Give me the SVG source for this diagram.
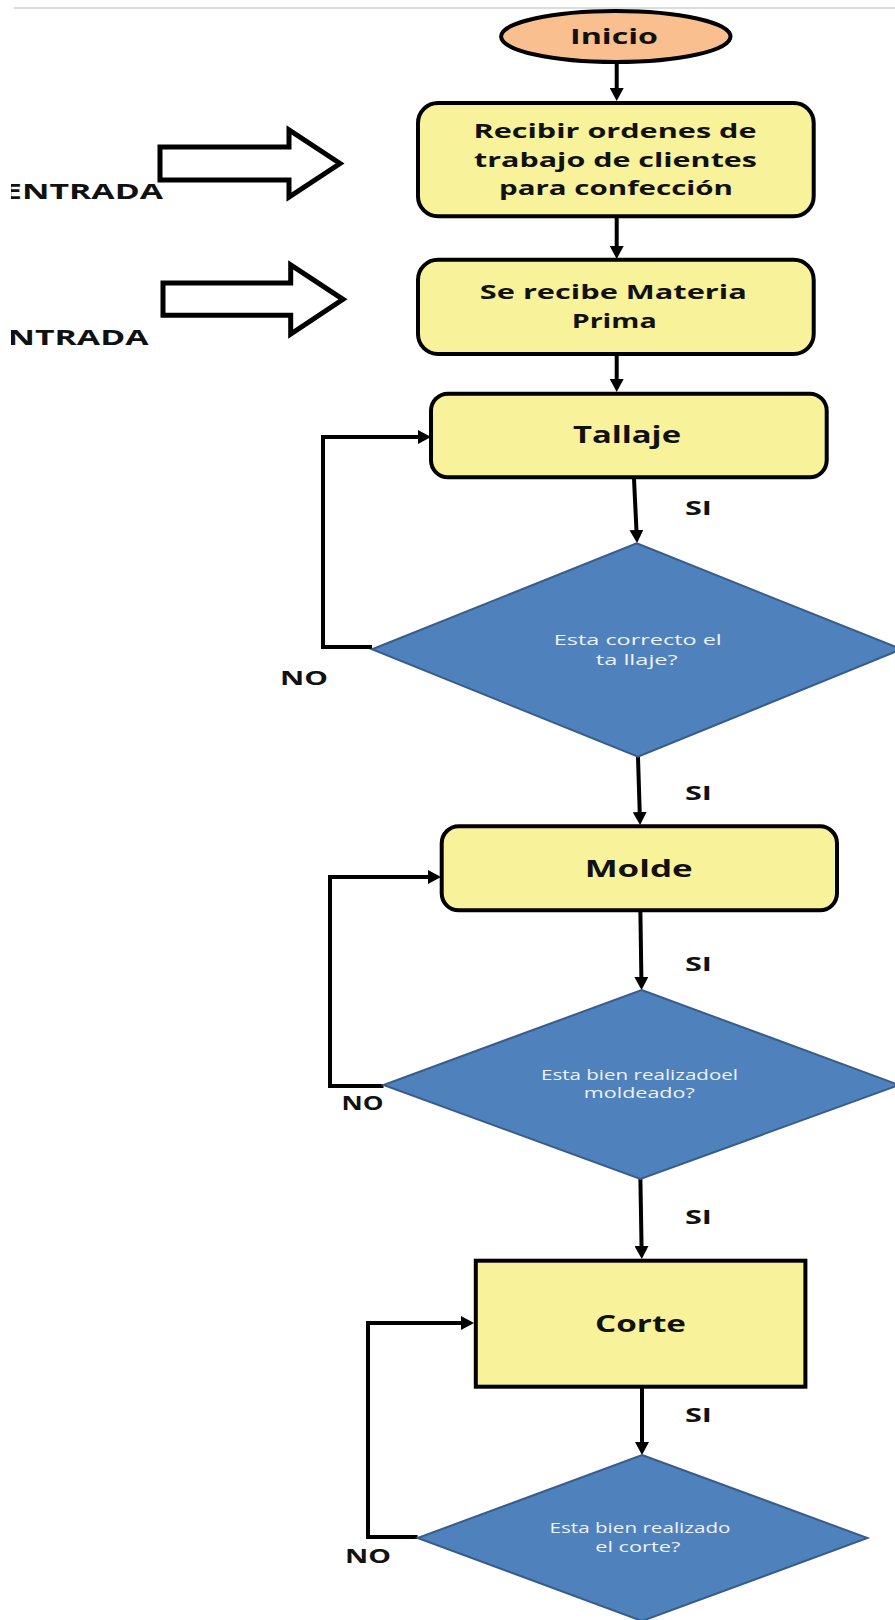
<svg xmlns="http://www.w3.org/2000/svg" width="895" height="1620" viewBox="0 0 895 1620">
<style>
.box{fill:#F8F29A;stroke:#000;stroke-width:4}
.dia{fill:#4F81BD;stroke:#385D8A;stroke-width:2}
.t{font-family:"Open Sans","Noto Sans",sans-serif;font-weight:bold;fill:#111;text-anchor:middle}
.dt{font-family:"Open Sans","Noto Sans",sans-serif;fill:#EEF2F8;text-anchor:middle;font-size:14px}
.ln{fill:none;stroke:#000;stroke-width:4;marker-end:url(#ah)}
.blk{fill:#fff;stroke:#000;stroke-width:5;stroke-linejoin:miter}
</style>
<defs>
<marker id="ah" markerWidth="14" markerHeight="14" refX="3" refY="7" orient="auto" markerUnits="userSpaceOnUse"><path d="M0,0 L13,7 L0,14 z" fill="#000"/></marker>
<clipPath id="pg"><rect x="11" y="0" width="884" height="1620"/></clipPath>
</defs>
<rect x="0" y="0" width="895" height="1620" fill="#fff"/>
<line x1="14" y1="8" x2="895" y2="8" stroke="#dcdcdc" stroke-width="2"/>

<g id="connectors">
<path class="ln" d="M616.7,63 V91"/>
<path class="ln" d="M616.7,218 V249"/>
<path class="ln" d="M616.7,356 V382"/>
<path class="ln" d="M634,479 L636.6,533"/>
<path class="ln" d="M372,647 H323 V437 H421"/>
<path class="ln" d="M638,757 L639.8,815"/>
<path class="ln" d="M640.4,912 L641.4,980"/>
<path class="ln" d="M383.5,1086 H330 V877 H431"/>
<path class="ln" d="M640.4,1179 L641.6,1249"/>
<path class="ln" d="M642,1388 V1445"/>
<path class="ln" d="M417.6,1537 H368 V1323 H464"/>
</g>

<g id="inicio">
<ellipse cx="615.8" cy="36.5" rx="114.7" ry="25.5" fill="#F9BF8F" stroke="#000" stroke-width="4"/>
<text class="t" x="614" y="43.5" font-size="22" textLength="88" lengthAdjust="spacingAndGlyphs">Inicio</text>
</g>

<g id="entrada1" clip-path="url(#pg)">
<polygon class="blk" points="160,147 289,147 289,130 340,163.5 289,197 289,180 160,180"/>
<text class="t" x="83" y="198.5" font-size="21" textLength="160" lengthAdjust="spacingAndGlyphs">ENTRADA</text>
</g>

<g id="entrada2" clip-path="url(#pg)">
<polygon class="blk" points="163,283 290.7,283 290.7,265 343,299.3 290.7,334 290.7,315.3 163,315.3"/>
<text class="t" x="68.5" y="345" font-size="21" textLength="160" lengthAdjust="spacingAndGlyphs">ENTRADA</text>
</g>

<g id="recibir">
<rect class="box" x="418" y="103" width="395.7" height="113.3" rx="20"/>
<text class="t" x="615" y="137.7" font-size="20" textLength="283" lengthAdjust="spacingAndGlyphs">Recibir ordenes de</text>
<text class="t" x="615.5" y="166.7" font-size="20" textLength="283" lengthAdjust="spacingAndGlyphs">trabajo de clientes</text>
<text class="t" x="616" y="195" font-size="20" textLength="234" lengthAdjust="spacingAndGlyphs">para confección</text>
</g>

<g id="materia">
<rect class="box" x="418" y="259.7" width="395.7" height="94.3" rx="20"/>
<text class="t" x="613.3" y="299.3" font-size="20" textLength="267" lengthAdjust="spacingAndGlyphs">Se recibe Materia</text>
<text class="t" x="614.2" y="328.3" font-size="20" textLength="85" lengthAdjust="spacingAndGlyphs">Prima</text>
</g>

<g id="tallaje">
<rect class="box" x="431" y="393.7" width="395.7" height="83.6" rx="17"/>
<text class="t" x="627" y="443.3" font-size="23" textLength="108" lengthAdjust="spacingAndGlyphs">Tallaje</text>
</g>

<g id="d1">
<polygon class="dia" points="636.6,543.3 901.5,649.3 638,756.7 372,649.3"/>
<text class="dt" x="637.8" y="645" textLength="168" lengthAdjust="spacingAndGlyphs">Esta correcto el</text>
<text class="dt" x="636.8" y="665" textLength="82" lengthAdjust="spacingAndGlyphs">ta llaje?</text>
</g>

<g id="molde">
<rect class="box" x="441.7" y="826.3" width="395.3" height="84" rx="17"/>
<text class="t" x="638.7" y="876.7" font-size="23" textLength="108" lengthAdjust="spacingAndGlyphs">Molde</text>
</g>

<g id="d2">
<polygon class="dia" points="641.6,990 899,1085 640.4,1179 383.5,1085"/>
<text class="dt" x="639.5" y="1080" textLength="197" lengthAdjust="spacingAndGlyphs">Esta bien realizadoel</text>
<text class="dt" x="639.3" y="1097.7" textLength="111" lengthAdjust="spacingAndGlyphs">moldeado?</text>
</g>

<g id="corte">
<rect x="475.8" y="1260.7" width="329.6" height="126" fill="#F8F29A" stroke="#000" stroke-width="4"/>
<text class="t" x="640.5" y="1331.7" font-size="23" textLength="91" lengthAdjust="spacingAndGlyphs">Corte</text>
</g>

<g id="d3">
<polygon class="dia" points="642,1455 867.4,1538 642,1621 417.6,1538"/>
<text class="dt" x="640" y="1533.3" textLength="181" lengthAdjust="spacingAndGlyphs">Esta bien realizado</text>
<text class="dt" x="637.8" y="1551.7" textLength="85" lengthAdjust="spacingAndGlyphs">el corte?</text>
</g>

<g id="labels">
<text class="t" x="698.5" y="515" font-size="19" textLength="27" lengthAdjust="spacingAndGlyphs">SI</text>
<text class="t" x="698.5" y="800" font-size="19" textLength="27" lengthAdjust="spacingAndGlyphs">SI</text>
<text class="t" x="698.5" y="970.7" font-size="19" textLength="27" lengthAdjust="spacingAndGlyphs">SI</text>
<text class="t" x="698.5" y="1224" font-size="19" textLength="27" lengthAdjust="spacingAndGlyphs">SI</text>
<text class="t" x="698.5" y="1421.7" font-size="19" textLength="27" lengthAdjust="spacingAndGlyphs">SI</text>
<text class="t" x="304" y="685" font-size="20" textLength="48" lengthAdjust="spacingAndGlyphs">NO</text>
<text class="t" x="362.6" y="1110" font-size="19" textLength="42" lengthAdjust="spacingAndGlyphs">NO</text>
<text class="t" x="368" y="1563.3" font-size="20" textLength="46" lengthAdjust="spacingAndGlyphs">NO</text>
</g>
</svg>
